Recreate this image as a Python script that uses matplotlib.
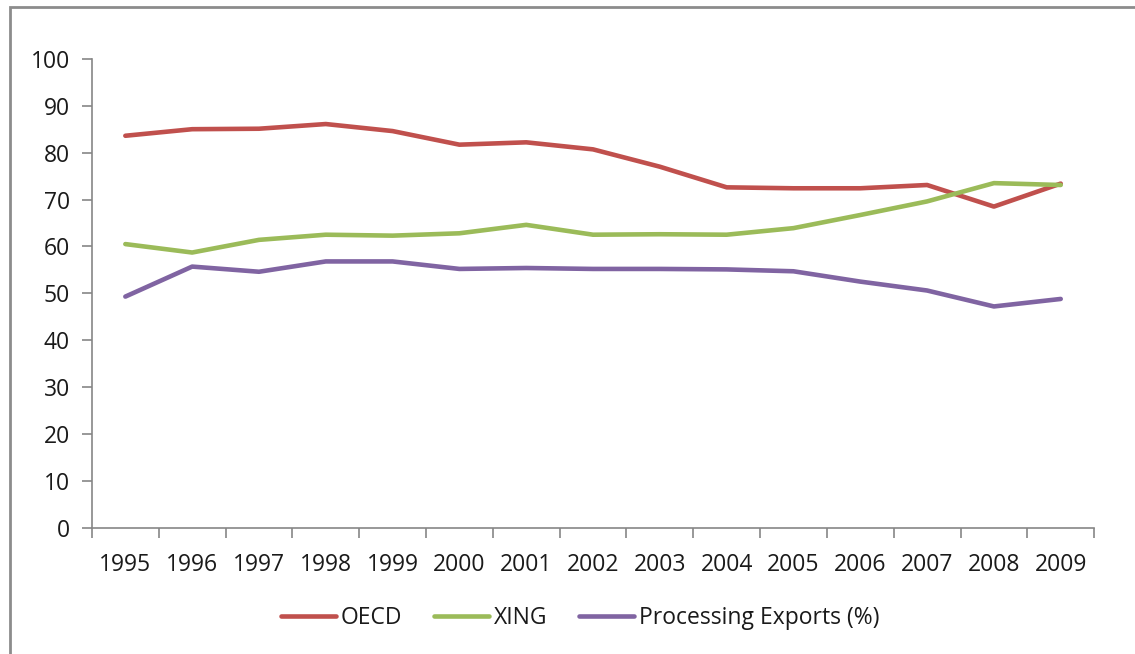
import matplotlib.pyplot as plt
from matplotlib.patches import Rectangle

years = ['1995', '1996', '1997', '1998', '1999', '2000', '2001', '2002',
         '2003', '2004', '2005', '2006', '2007', '2008', '2009']
oecd = [83.6, 85.0, 85.1, 86.1, 84.6, 81.7, 82.2, 80.7, 77.0, 72.6, 72.4, 72.4, 73.1, 68.5, 73.4]
xing = [60.5, 58.7, 61.4, 62.5, 62.3, 62.8, 64.6, 62.5, 62.6, 62.5, 63.9, 66.7, 69.6, 73.5, 73.1]
processing = [49.3, 55.7, 54.6, 56.8, 56.8, 55.2, 55.4, 55.2, 55.2, 55.1, 54.7, 52.5, 50.6, 47.2, 48.8]

series = [
    ('OECD', oecd, '#C0504D'),
    ('XING', xing, '#9BBB59'),
    ('Processing Exports (%)', processing, '#8064A2'),
]

plt.rcParams['font.family'] = ['Open Sans', 'DejaVu Sans']
axis_grey = '#868686'
text_col = '#1a1a1a'
fs = 16.5

fig = plt.figure(figsize=(11.35, 6.54), dpi=100)
ax = fig.add_axes([0.081, 0.193, 0.883, 0.717])

x = list(range(len(years)))
for name, vals, col in series:
    ax.plot(x, vals, color=col, lw=3.3, solid_capstyle='round',
            solid_joinstyle='round', label=name)

ax.set_xlim(-0.5, len(years) - 0.5)
ax.set_ylim(0, 100)
ax.set_yticks(range(0, 101, 10))

# category labels in the middle, tick marks on the boundaries
ax.set_xticks(x)
ax.set_xticklabels(years)
ax.set_xticks([i - 0.5 for i in range(len(years) + 1)], minor=True)
ax.tick_params(axis='x', which='major', length=0, pad=18, labelsize=fs, labelcolor=text_col)
ax.tick_params(axis='x', which='minor', length=7, width=1.2, color=axis_grey, direction='out')
ax.tick_params(axis='y', length=7, width=1.2, color=axis_grey, pad=9, labelsize=fs, labelcolor=text_col)

for side in ['top', 'right']:
    ax.spines[side].set_visible(False)
for side in ['left', 'bottom']:
    ax.spines[side].set_color(axis_grey)
    ax.spines[side].set_linewidth(1.2)

fig.legend(loc='center', bbox_to_anchor=(0.511, 0.055), ncol=3, frameon=False,
           fontsize=fs, handlelength=2.4, handletextpad=0.2, columnspacing=1.4,
           labelcolor=text_col)

# outer chart frame (cut off on the right and bottom)
fig.patches.append(Rectangle((10 / 1135, -0.1), 1.2, 1.1 - 7 / 654,
                             transform=fig.transFigure, fill=False,
                             edgecolor='#8c8c8c', lw=2, figure=fig))

fig.savefig('out.png', dpi=100, facecolor='white')
